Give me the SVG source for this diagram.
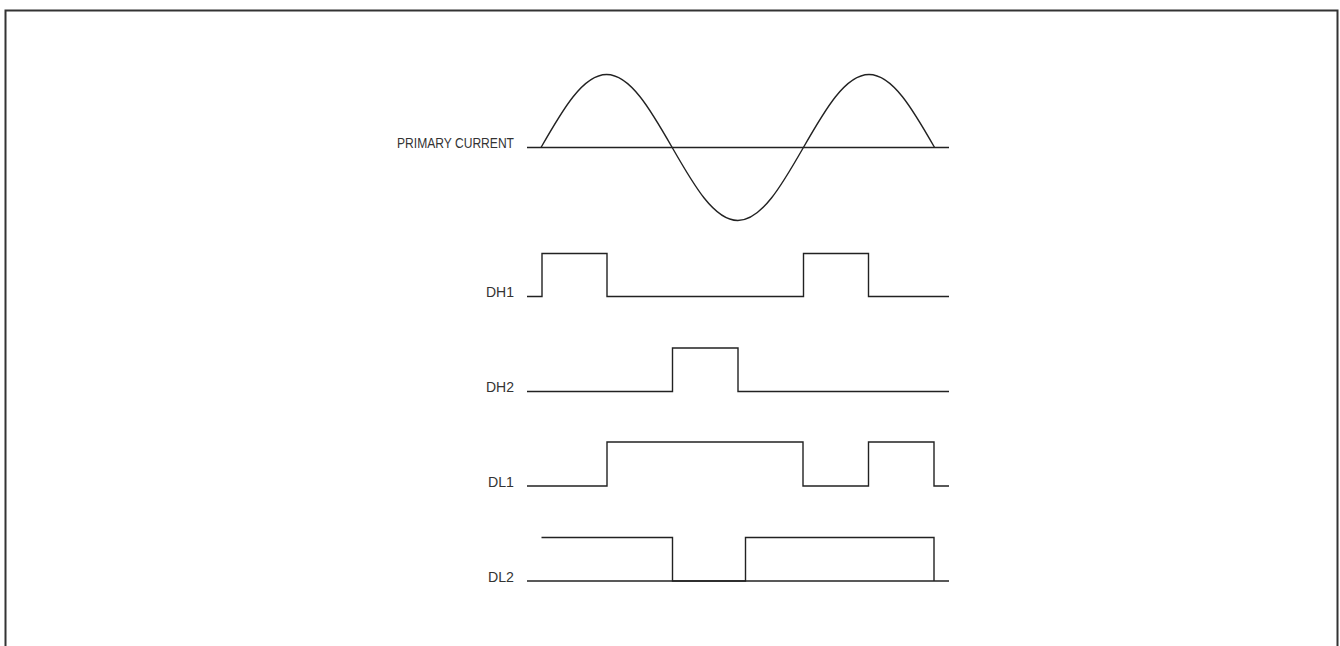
<svg xmlns="http://www.w3.org/2000/svg" width="1340" height="646" viewBox="0 0 1340 646">
<style>
.lbl{font-family:"Liberation Sans",Arial,sans-serif;font-size:15px;fill:#333;text-anchor:end}
.w{fill:none;stroke:#222;stroke-width:1.4;stroke-linejoin:miter}
</style>
<rect x="0" y="0" width="1340" height="646" fill="#fff"/>
<rect x="5.5" y="10.5" width="1332" height="700" fill="none" stroke="#333" stroke-width="2"/>
<g id="primary-current">
<text class="lbl" x="514" y="148" textLength="117" lengthAdjust="spacingAndGlyphs">PRIMARY CURRENT</text>
<line class="w" x1="527" y1="147.5" x2="949" y2="147.5"/>
<path class="w" d="M541,147.5 C562.4,110.1 582.9,74.5 606.6,74.5 C630.3,74.5 650.8,110.1 672.2,147.5 C693.6,184.9 714.1,220.5 737.8,220.5 C761.5,220.5 782,184.9 803.4,147.5 C824.8,110.1 845.3,74.5 869,74.5 C892.7,74.5 913.2,110.1 934.6,147.5"/>
</g>
<g id="dh1">
<text class="lbl" x="514" y="297" textLength="28" lengthAdjust="spacingAndGlyphs">DH1</text>
<path class="w" d="M527,296.5 H542 V253.5 H607 V296.5 H803.5 V253.5 H868.5 V296.5 H949"/>
</g>
<g id="dh2">
<text class="lbl" x="514" y="392" textLength="28" lengthAdjust="spacingAndGlyphs">DH2</text>
<path class="w" d="M527,391.5 H672.5 V348 H738 V391.5 H949"/>
</g>
<g id="dl1">
<text class="lbl" x="514" y="486.5" textLength="26" lengthAdjust="spacingAndGlyphs">DL1</text>
<path class="w" d="M527,486 H607 V442 H803 V486 H868.5 V442 H934 V486 H949"/>
</g>
<g id="dl2">
<text class="lbl" x="514" y="581.5" textLength="26" lengthAdjust="spacingAndGlyphs">DL2</text>
<path class="w" d="M541.5,537.5 H672.5 V581 H745.5 V537.5 H934 V581"/>
<line class="w" x1="527" y1="581" x2="949" y2="581"/>
</g>
</svg>
